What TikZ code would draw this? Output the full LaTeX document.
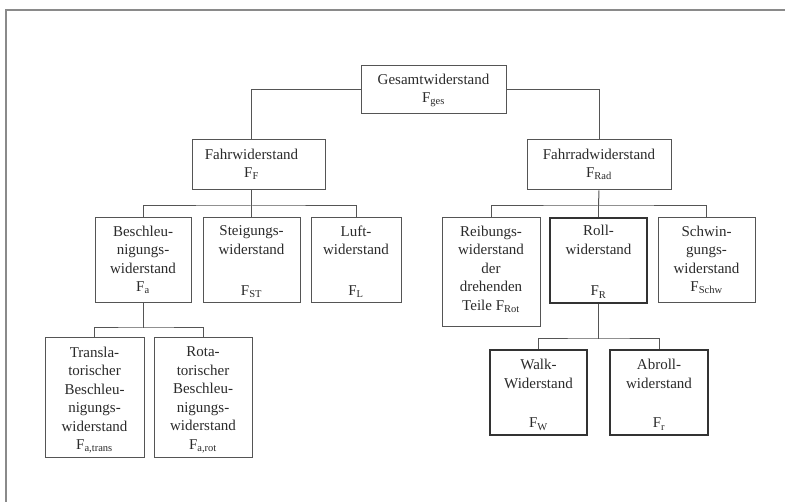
\documentclass[tikz,border=0pt]{standalone}
\usepackage{fontspec}
\setmainfont{Liberation Serif}
\usetikzlibrary{fit}
\definecolor{boxc}{HTML}{555555}
\definecolor{thickc}{HTML}{333333}
\definecolor{txtc}{HTML}{2A2A2A}
\definecolor{framec}{HTML}{8A8A8A}
\begin{document}
\begin{tikzpicture}[x=1pt,y=-1pt,
  nbox/.style={draw=boxc, line width=1pt, inner sep=0pt},
  tbox/.style={draw=thickc, line width=2pt, inner sep=0pt},
  txt/.style={font=\fontsize{15}{18.5}\selectfont, align=center, inner sep=0pt, text=txtc},
  conn/.style={draw=boxc, line width=1pt}]
\useasboundingbox (0,0) rectangle (785,502);
\draw[framec, line width=1.5pt] (6,502) -- (6,10) -- (785,10);
% boxes
\node[nbox, fit={(361,66)(506,114)}] (G) {};
\node[nbox, fit={(192,140)(325,190)}] (F) {};
\node[nbox, fit={(527,140)(671,190)}] (Rad) {};
\node[nbox, fit={(95,218)(191,303)}] (Be) {};
\node[nbox, fit={(203,218)(300,303)}] (St) {};
\node[nbox, fit={(311,218)(401,303)}] (Lu) {};
\node[nbox, fit={(442,218)(540,327)}] (Re) {};
\node[tbox, fit={(550,218)(647,303)}] (Ro) {};
\node[nbox, fit={(658,218)(755,303)}] (Sc) {};
\node[nbox, fit={(45,338)(144,458)}] (Tr) {};
\node[nbox, fit={(154,338)(252,458)}] (Rt) {};
\node[tbox, fit={(490,350)(587,435)}] (Wa) {};
\node[tbox, fit={(610,350)(708,435)}] (Ab) {};
% texts
\node[txt, anchor=north] (Gt) at ([yshift=-8pt]G.north) {Gesamtwiderstand\\F\textsubscript{ges}};
\node[txt, anchor=north] (Ft) at ([xshift=-7pt,yshift=-9pt]F.north) {Fahrwiderstand\\F\textsubscript{F}};
\node[txt, anchor=north] (Radt) at ([yshift=-9pt]Rad.north) {Fahrradwiderstand\\F\textsubscript{Rad}};
\node[txt, anchor=north] (Bet) at ([yshift=-8pt]Be.north) {Beschleu-\\nigungs-\\widerstand\\F\textsubscript{a}};
\node[txt, anchor=north] (Stt) at ([yshift=-8pt]St.north) {Steigungs-\\widerstand};
\node[txt, anchor=base] (Stf) at ([yshift=8pt]St.south) {F\textsubscript{ST}};
\node[txt, anchor=north] (Lut) at ([yshift=-8pt]Lu.north) {Luft-\\widerstand};
\node[txt, anchor=base] (Luf) at ([yshift=8pt]Lu.south) {F\textsubscript{L}};
\node[txt, anchor=north] (Ret) at ([yshift=-8pt]Re.north) {Reibungs-\\widerstand\\der\\drehenden\\Teile F\textsubscript{Rot}};
\node[txt, anchor=north] (Rot) at ([yshift=-8pt]Ro.north) {Roll-\\widerstand};
\node[txt, anchor=base] (Rof) at ([yshift=8pt]Ro.south) {F\textsubscript{R}};
\node[txt, anchor=north] (Sct) at ([yshift=-8pt]Sc.north) {Schwin-\\gungs-\\widerstand\\F\textsubscript{Schw}};
\node[txt, anchor=north] (Trt) at ([yshift=-9pt]Tr.north) {Transla-\\torischer\\Beschleu-\\nigungs-\\widerstand\\F\textsubscript{a,trans}};
\node[txt, anchor=north] (Rtt) at ([yshift=-9pt]Rt.north) {Rota-\\torischer\\Beschleu-\\nigungs-\\widerstand\\F\textsubscript{a,rot}};
\node[txt, anchor=north] (Wat) at ([yshift=-10pt]Wa.north) {Walk-\\Widerstand};
\node[txt, anchor=base] (Waf) at ([yshift=8pt]Wa.south) {F\textsubscript{W}};
\node[txt, anchor=north] (Abt) at ([yshift=-10pt]Ab.north) {Abroll-\\widerstand};
\node[txt, anchor=base] (Abf) at ([yshift=8pt]Ab.south) {F\textsubscript{r}};
% connectors
\draw[conn] (G.west) -| ([xshift=-7pt]F.north);
\draw[conn] (G.east) -| (Rad.north);
\coordinate (b1) at (251.5,206);
\draw[conn] ([xshift=-7pt]F.south) -- (b1);
\draw[conn] (Be.north) |- (b1) -| (Lu.north);
\draw[conn] (St.north) -- (St.north |- b1);
\coordinate (b2) at (598.5,206);
\draw[conn] (Rad.south) -- (b2);
\draw[conn] (Re.north) |- (b2) -| (Sc.north);
\draw[conn] (Ro.north) -- (b2);
\coordinate (b3) at (143,328);
\draw[conn] (Be.south) -- (b3);
\draw[conn] (Tr.north) |- (b3) -| (Rt.north);
\coordinate (b4) at (598.5,339);
\draw[conn] (Ro.south) -- (b4);
\draw[conn] (Wa.north) |- (b4) -| (Ab.north);
\end{tikzpicture}
\end{document}
